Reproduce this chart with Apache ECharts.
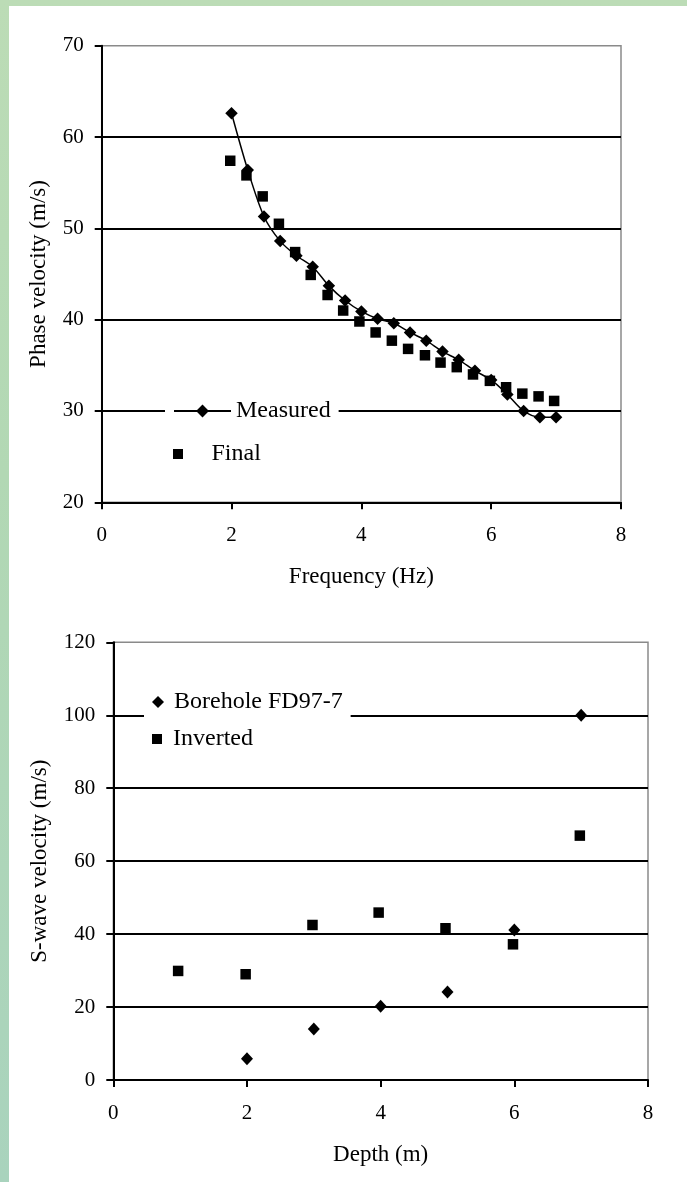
<!DOCTYPE html>
<html><head><meta charset="utf-8">
<script src="https://cdn.jsdelivr.net/npm/echarts@6/dist/echarts.min.js"></script>
<style>
html,body{margin:0;padding:0;width:687px;height:1182px;overflow:hidden;
background:linear-gradient(180deg,#bcdcb6 0%,#b2d8b4 40%,#a9d3bd 100%);}
#panel{position:absolute;left:9px;top:6px;width:678px;height:1176px;background:#fff;}
#chart{position:absolute;left:0;top:0;width:687px;height:1182px;}
</style></head><body>
<div id="panel"></div><div id="chart"></div>
<script>
// Top chart: phase velocity vs frequency
const measuredFreq = [2.0, 2.25, 2.5, 2.75, 3.0, 3.25, 3.5, 3.75, 4.0, 4.25, 4.5, 4.75, 5.0, 5.25, 5.5, 5.75, 6.0, 6.25, 6.5, 6.75, 7.0];
const measuredVel  = [62.6, 56.4, 51.3, 48.6, 47.0, 45.8, 43.7, 42.1, 40.9, 40.1, 39.6, 38.6, 37.7, 36.5, 35.6, 34.4, 33.4, 31.8, 30.0, 29.3, 29.3];
const finalFreq = [1.98, 2.23, 2.48, 2.73, 2.98, 3.22, 3.48, 3.72, 3.97, 4.22, 4.47, 4.72, 4.98, 5.22, 5.47, 5.72, 5.98, 6.23, 6.48, 6.73, 6.97];
const finalVel  = [57.4, 55.8, 53.5, 50.5, 47.4, 44.9, 42.7, 41.0, 39.8, 38.6, 37.7, 36.8, 36.1, 35.3, 34.8, 34.0, 33.3, 32.6, 31.9, 31.6, 31.1];

// Bottom chart: S-wave velocity vs depth
const boreholeDepth = [2, 3, 4, 5, 6, 7];
const boreholeVel   = [5.8, 14.0, 20.2, 24.1, 41.1, 100.0];
const invertedDepth = [0.97, 1.98, 2.98, 3.97, 4.97, 5.98, 6.98];
const invertedVel   = [29.9, 29.0, 42.5, 45.9, 41.6, 37.2, 67.0];

const seriesNames = ['Measured', 'Final', 'Borehole FD97-7', 'Inverted'];
const axisTitles = ['Frequency (Hz)', 'Phase velocity (m/s)', 'Depth (m)', 'S-wave velocity (m/s)'];

const pairs = (xs, ys) => xs.map((x, i) => [x, ys[i]]);

const FONT = '"Liberation Serif", "Times New Roman", serif';
const SQUARE = 'path://M0,0L1,0L1,1L0,1Z';
const DIAMOND = 'path://M1,0L2,1L1,2L0,1Z';

function xAx(gridIndex, name) {
  return {
    type: 'value', gridIndex, min: 0, max: 8, interval: 2,
    name, nameLocation: 'middle', nameGap: 63,
    nameTextStyle: {fontFamily: FONT, fontSize: 23, color: '#000'},
    axisLine: {show: true, onZero: false, lineStyle: {color: '#000', width: 2}},
    axisTick: {show: true, inside: false, length: 7, lineStyle: {color: '#000', width: 2}},
    axisLabel: {fontFamily: FONT, fontSize: 21, color: '#000', margin: 23},
    splitLine: {show: false}
  };
}
function yAx(gridIndex, name, min, max, interval, gap) {
  return {
    type: 'value', gridIndex, min, max, interval,
    name, nameLocation: 'middle', nameGap: gap,
    nameTextStyle: {fontFamily: FONT, fontSize: 23, color: '#000'},
    axisLine: {show: true, onZero: false, lineStyle: {color: '#000', width: 2}},
    axisTick: {show: true, inside: false, length: 7, lineStyle: {color: '#000', width: 2}},
    axisLabel: {fontFamily: FONT, fontSize: 21, color: '#000', margin: 18},
    splitLine: {show: true, showMinLine: false, showMaxLine: false, lineStyle: {color: '#000', width: 2}}
  };
}
const legendText = {fontFamily: FONT, fontSize: 24, color: '#000', lineHeight: 26};
const solid = {color: '#000', opacity: 1};

const chart = echarts.init(document.getElementById('chart'), null, {renderer: 'canvas'});
chart.setOption({
  animation: false,
  backgroundColor: 'transparent',
  grid: [
    {left: 101.7, top: 45.7, width: 519.3, height: 456.6, show: true, borderColor: '#8a8a8a', borderWidth: 1.5, backgroundColor: 'transparent'},
    {left: 113.3, top: 642.3, width: 534.7, height: 437.7, show: true, borderColor: '#8a8a8a', borderWidth: 1.5, backgroundColor: 'transparent'}
  ],
  xAxis: [xAx(0, axisTitles[0]), xAx(1, axisTitles[2])],
  yAxis: [yAx(0, axisTitles[1], 20, 70, 10, 51), yAx(1, axisTitles[3], 0, 120, 20, 62)],
  legend: [
    {data: [seriesNames[0]], left: 165, top: 395, orient: 'vertical', padding: [3, 8],
     itemWidth: 57, itemHeight: 16, backgroundColor: '#fff', selectedMode: false, textStyle: legendText},
    {data: [{name: seriesNames[1], icon: SQUARE}], left: 173, top: 441, orient: 'vertical', padding: 0,
     itemWidth: 57, itemHeight: 10, selectedMode: false, textStyle: legendText},
    {data: [{name: seriesNames[2], icon: DIAMOND}], left: 144, top: 686, orient: 'vertical', padding: [3, 8],
     itemWidth: 22, itemHeight: 12, backgroundColor: '#fff', selectedMode: false, textStyle: legendText},
    {data: [{name: seriesNames[3], icon: SQUARE}], left: 152, top: 726, orient: 'vertical', padding: 0,
     itemWidth: 22, itemHeight: 10, selectedMode: false, textStyle: legendText}
  ],
  series: [
    {name: seriesNames[1], type: 'scatter', xAxisIndex: 0, yAxisIndex: 0,
     symbol: 'rect', symbolSize: 10.5, itemStyle: solid, data: pairs(finalFreq, finalVel)},
    {name: seriesNames[0], type: 'line', xAxisIndex: 0, yAxisIndex: 0, smooth: 0.3,
     symbol: 'diamond', symbolSize: 12.5, showAllSymbol: true,
     lineStyle: {color: '#000', width: 1.5}, itemStyle: solid,
     data: pairs(measuredFreq, measuredVel)},
    {name: seriesNames[2], type: 'scatter', xAxisIndex: 1, yAxisIndex: 1,
     symbol: 'diamond', symbolSize: [12, 13], itemStyle: solid, data: pairs(boreholeDepth, boreholeVel)},
    {name: seriesNames[3], type: 'scatter', xAxisIndex: 1, yAxisIndex: 1,
     symbol: 'rect', symbolSize: 10.5, itemStyle: solid, data: pairs(invertedDepth, invertedVel)}
  ]
});
</script>
</body></html>
